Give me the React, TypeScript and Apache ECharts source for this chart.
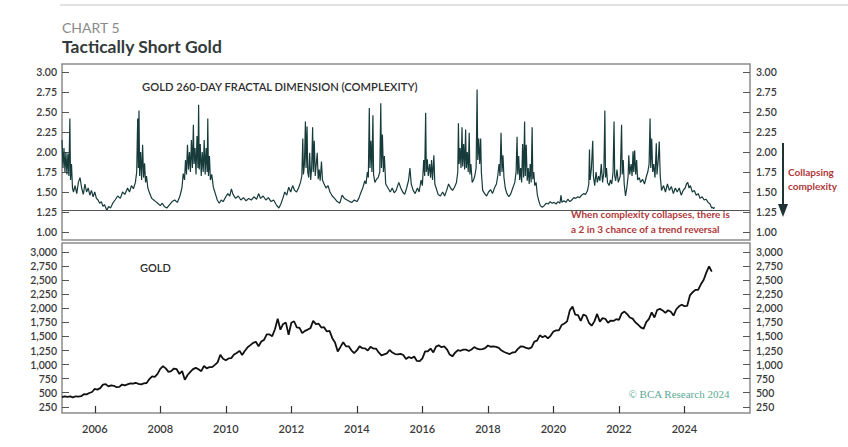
import React, { useEffect, useRef } from "react";
import * as echarts from "echarts";

// Gold 260-day fractal dimension: [year, value]
const fractalDimension: [number, number][] = [
  [2005.0, 2.15], [2005.03, 1.8], [2005.06, 2.05], [2005.09, 1.75], [2005.12, 2.0], [2005.15, 1.72],
  [2005.18, 1.98], [2005.21, 1.7], [2005.24, 2.42], [2005.26, 1.65], [2005.29, 1.85], [2005.32, 1.55],
  [2005.35, 1.5], [2005.4, 1.58], [2005.45, 1.48], [2005.5, 1.62], [2005.55, 1.68], [2005.6, 1.55],
  [2005.65, 1.47], [2005.7, 1.6], [2005.75, 1.5], [2005.8, 1.55], [2005.85, 1.46], [2005.9, 1.52],
  [2005.95, 1.44], [2006.0, 1.5], [2006.05, 1.42], [2006.1, 1.4], [2006.15, 1.36], [2006.2, 1.38],
  [2006.25, 1.32], [2006.3, 1.34], [2006.37, 1.27], [2006.42, 1.32], [2006.48, 1.3], [2006.55, 1.36],
  [2006.62, 1.4], [2006.7, 1.45], [2006.78, 1.42], [2006.85, 1.5], [2006.92, 1.47], [2007.0, 1.55],
  [2007.06, 1.5], [2007.12, 1.58], [2007.18, 1.54], [2007.24, 1.62], [2007.28, 1.75], [2007.31, 2.42],
  [2007.33, 1.8], [2007.35, 2.52], [2007.37, 1.7], [2007.4, 2.0], [2007.43, 1.65], [2007.46, 2.09],
  [2007.49, 1.68], [2007.52, 1.86], [2007.55, 1.62], [2007.58, 1.7], [2007.62, 1.55], [2007.68, 1.48],
  [2007.74, 1.42], [2007.8, 1.4], [2007.86, 1.38], [2007.92, 1.36], [2008.0, 1.33], [2008.06, 1.36],
  [2008.12, 1.32], [2008.2, 1.3], [2008.28, 1.34], [2008.36, 1.38], [2008.44, 1.4], [2008.52, 1.37],
  [2008.6, 1.45], [2008.66, 1.55], [2008.7, 1.73], [2008.74, 1.65], [2008.77, 1.9], [2008.8, 1.72],
  [2008.83, 2.09], [2008.86, 1.78], [2008.89, 2.0], [2008.92, 1.75], [2008.95, 2.15], [2008.98, 1.8],
  [2009.01, 2.34], [2009.03, 1.85], [2009.06, 2.05], [2009.09, 1.72], [2009.12, 2.2], [2009.15, 1.8],
  [2009.17, 2.59], [2009.19, 1.78], [2009.22, 2.1], [2009.25, 1.7], [2009.28, 2.0], [2009.31, 1.75],
  [2009.34, 2.15], [2009.37, 1.72], [2009.4, 2.05], [2009.43, 1.75], [2009.45, 2.42], [2009.47, 1.7],
  [2009.5, 1.95], [2009.53, 1.65], [2009.57, 1.72], [2009.62, 1.56], [2009.68, 1.48], [2009.74, 1.4],
  [2009.8, 1.36], [2009.86, 1.4], [2009.92, 1.38], [2010.0, 1.44], [2010.06, 1.48], [2010.12, 1.45],
  [2010.17, 1.54], [2010.22, 1.47], [2010.3, 1.42], [2010.38, 1.45], [2010.46, 1.4], [2010.54, 1.43],
  [2010.62, 1.39], [2010.7, 1.42], [2010.78, 1.4], [2010.86, 1.44], [2010.94, 1.41], [2011.0, 1.48],
  [2011.06, 1.42], [2011.14, 1.45], [2011.22, 1.4], [2011.3, 1.43], [2011.38, 1.38], [2011.46, 1.4],
  [2011.54, 1.34], [2011.62, 1.3], [2011.68, 1.35], [2011.74, 1.42], [2011.8, 1.5], [2011.86, 1.46],
  [2011.92, 1.56], [2011.98, 1.5], [2012.04, 1.58], [2012.1, 1.52], [2012.16, 1.5], [2012.22, 1.55],
  [2012.28, 1.62], [2012.32, 1.7], [2012.35, 2.17], [2012.37, 1.72], [2012.4, 1.85], [2012.43, 2.38],
  [2012.45, 1.8], [2012.48, 2.32], [2012.5, 1.75], [2012.53, 1.68], [2012.56, 1.99], [2012.59, 1.65],
  [2012.62, 1.8], [2012.65, 2.31], [2012.67, 1.75], [2012.7, 2.14], [2012.73, 1.7], [2012.76, 1.85],
  [2012.79, 1.99], [2012.82, 1.66], [2012.85, 1.78], [2012.88, 1.64], [2012.92, 1.88], [2012.95, 1.65],
  [2013.0, 1.6], [2013.06, 1.55], [2013.12, 1.58], [2013.18, 1.5], [2013.25, 1.45], [2013.32, 1.42],
  [2013.4, 1.38], [2013.48, 1.36], [2013.55, 1.46], [2013.62, 1.42], [2013.7, 1.4], [2013.78, 1.38],
  [2013.85, 1.37], [2013.92, 1.4], [2014.0, 1.38], [2014.06, 1.42], [2014.12, 1.49], [2014.18, 1.55],
  [2014.24, 1.64], [2014.28, 1.6], [2014.32, 1.75], [2014.35, 1.68], [2014.38, 2.55], [2014.4, 1.8],
  [2014.43, 2.14], [2014.46, 1.75], [2014.49, 2.46], [2014.51, 1.72], [2014.55, 1.62], [2014.6, 1.66],
  [2014.65, 1.68], [2014.7, 1.75], [2014.73, 2.61], [2014.75, 1.8], [2014.78, 2.22], [2014.81, 1.75],
  [2014.84, 1.95], [2014.88, 1.6], [2014.95, 1.55], [2015.02, 1.5], [2015.08, 1.55], [2015.14, 1.49],
  [2015.2, 1.52], [2015.28, 1.62], [2015.34, 1.55], [2015.4, 1.5], [2015.46, 1.47], [2015.52, 1.55],
  [2015.58, 1.65], [2015.62, 1.8], [2015.66, 1.6], [2015.72, 1.52], [2015.78, 1.48], [2015.85, 1.55],
  [2015.9, 1.5], [2015.96, 1.65], [2016.0, 1.58], [2016.04, 1.9], [2016.07, 1.7], [2016.1, 2.49],
  [2016.12, 1.75], [2016.15, 1.91], [2016.18, 1.7], [2016.22, 1.85], [2016.25, 1.68], [2016.28, 1.9],
  [2016.31, 1.65], [2016.35, 1.96], [2016.38, 1.6], [2016.42, 1.55], [2016.48, 1.47], [2016.55, 1.45],
  [2016.62, 1.5], [2016.68, 1.45], [2016.74, 1.52], [2016.8, 1.6], [2016.86, 1.55], [2016.92, 1.52],
  [2016.98, 1.56], [2017.04, 1.62], [2017.08, 1.75], [2017.1, 2.36], [2017.12, 1.85], [2017.15, 2.05],
  [2017.18, 1.8], [2017.21, 2.31], [2017.23, 1.82], [2017.26, 2.1], [2017.29, 1.78], [2017.32, 2.28],
  [2017.34, 1.8], [2017.37, 2.0], [2017.4, 1.75], [2017.43, 2.24], [2017.45, 1.72], [2017.48, 1.85],
  [2017.52, 1.62], [2017.56, 1.65], [2017.6, 1.7], [2017.64, 1.8], [2017.67, 2.78], [2017.69, 1.9],
  [2017.72, 2.17], [2017.75, 1.85], [2017.78, 2.17], [2017.8, 1.75], [2017.84, 1.52], [2017.9, 1.48],
  [2017.96, 1.45], [2018.02, 1.5], [2018.08, 1.53], [2018.14, 1.48], [2018.2, 1.55], [2018.26, 1.6],
  [2018.3, 1.7], [2018.34, 1.85], [2018.37, 1.7], [2018.4, 2.24], [2018.43, 1.75], [2018.46, 1.96],
  [2018.49, 1.68], [2018.53, 1.55], [2018.58, 1.48], [2018.64, 1.44], [2018.7, 1.48], [2018.76, 1.55],
  [2018.82, 1.62], [2018.86, 1.75], [2018.89, 2.19], [2018.91, 1.72], [2018.94, 1.95], [2018.97, 1.65],
  [2019.0, 1.8], [2019.03, 1.62], [2019.06, 2.1], [2019.09, 1.68], [2019.12, 2.38], [2019.14, 1.7],
  [2019.17, 2.09], [2019.2, 1.64], [2019.23, 1.8], [2019.26, 1.6], [2019.29, 1.85], [2019.32, 1.62],
  [2019.35, 2.31], [2019.37, 1.66], [2019.4, 1.75], [2019.43, 1.58], [2019.47, 1.62], [2019.51, 1.46],
  [2019.56, 1.38], [2019.6, 1.33], [2019.66, 1.31], [2019.72, 1.33], [2019.78, 1.36], [2019.84, 1.35],
  [2019.9, 1.38], [2019.96, 1.36], [2020.02, 1.37], [2020.08, 1.35], [2020.14, 1.38], [2020.2, 1.36],
  [2020.23, 1.46], [2020.26, 1.37], [2020.32, 1.39], [2020.38, 1.37], [2020.44, 1.41], [2020.5, 1.38],
  [2020.56, 1.4], [2020.62, 1.43], [2020.68, 1.42], [2020.74, 1.44], [2020.8, 1.43], [2020.86, 1.46],
  [2020.92, 1.48], [2020.98, 1.47], [2021.04, 1.52], [2021.08, 1.6], [2021.1, 2.03], [2021.12, 1.65],
  [2021.16, 1.8], [2021.2, 2.14], [2021.22, 1.7], [2021.26, 1.58], [2021.3, 1.75], [2021.34, 1.62],
  [2021.38, 1.7], [2021.42, 1.64], [2021.46, 1.85], [2021.5, 1.62], [2021.54, 1.75], [2021.57, 2.52],
  [2021.59, 1.68], [2021.62, 1.8], [2021.65, 1.62], [2021.7, 1.58], [2021.74, 1.65], [2021.78, 1.6],
  [2021.82, 1.75], [2021.85, 2.38], [2021.87, 1.7], [2021.9, 1.64], [2021.94, 1.78], [2021.98, 1.62],
  [2022.04, 1.7], [2022.08, 2.34], [2022.1, 1.72], [2022.13, 1.9], [2022.16, 1.6], [2022.2, 1.45],
  [2022.24, 1.55], [2022.28, 1.7], [2022.3, 1.96], [2022.33, 1.72], [2022.37, 1.85], [2022.4, 1.7],
  [2022.43, 2.01], [2022.45, 1.75], [2022.48, 2.02], [2022.51, 1.72], [2022.54, 1.9], [2022.57, 1.65],
  [2022.62, 1.68], [2022.66, 1.62], [2022.72, 1.66], [2022.78, 1.6], [2022.84, 1.7], [2022.88, 1.75],
  [2022.92, 1.85], [2022.95, 2.42], [2022.97, 1.8], [2023.0, 2.17], [2023.03, 1.75], [2023.06, 1.85],
  [2023.1, 1.68], [2023.14, 2.11], [2023.16, 1.72], [2023.2, 1.9], [2023.23, 2.13], [2023.26, 1.7],
  [2023.3, 1.52], [2023.36, 1.58], [2023.42, 1.5], [2023.48, 1.6], [2023.54, 1.52], [2023.6, 1.57],
  [2023.66, 1.48], [2023.72, 1.55], [2023.78, 1.5], [2023.84, 1.55], [2023.9, 1.46], [2023.96, 1.52],
  [2024.02, 1.55], [2024.06, 1.6], [2024.1, 1.62], [2024.14, 1.55], [2024.18, 1.58], [2024.24, 1.5],
  [2024.3, 1.52], [2024.36, 1.46], [2024.42, 1.48], [2024.48, 1.42], [2024.54, 1.44], [2024.6, 1.4],
  [2024.66, 1.41], [2024.72, 1.37], [2024.78, 1.35], [2024.83, 1.3], [2024.86, 1.31], [2024.89, 1.29],
  [2024.92, 1.31],
];

// Gold price, monthly from Jan 2005 (USD/oz)
const goldStartYear = 2005;
const goldPrices: number[] = [
  422, 435, 428, 435, 417, 437, 430, 438, 473, 470, 495, 513,
  568, 556, 582, 644, 653, 613, 632, 623, 598, 604, 646, 632,
  650, 665, 662, 677, 659, 650, 665, 673, 743, 789, 783, 834,
  923, 971, 933, 871, 885, 930, 918, 833, 884, 731, 815, 869,
  919, 942, 916, 883, 975, 934, 955, 955, 996, 1040, 1175, 1104,
  1078, 1109, 1115, 1179, 1207, 1244, 1169, 1246, 1307, 1346, 1386, 1406,
  1327, 1411, 1439, 1536, 1536, 1505, 1628, 1813, 1620, 1722, 1746, 1531,
  1744, 1770, 1662, 1651, 1558, 1598, 1622, 1648, 1776, 1720, 1726, 1657,
  1664, 1588, 1598, 1469, 1394, 1234, 1314, 1396, 1326, 1324, 1253, 1204,
  1251, 1326, 1291, 1288, 1250, 1315, 1285, 1285, 1216, 1164, 1182, 1199,
  1260, 1214, 1187, 1180, 1190, 1171, 1098, 1135, 1114, 1142, 1065, 1060,
  1111, 1234, 1237, 1285, 1215, 1320, 1342, 1309, 1322, 1272, 1178, 1146,
  1212, 1255, 1245, 1267, 1266, 1242, 1269, 1311, 1283, 1270, 1275, 1291,
  1339, 1317, 1324, 1316, 1298, 1250, 1224, 1202, 1187, 1215, 1222, 1279,
  1321, 1320, 1295, 1284, 1305, 1409, 1427, 1520, 1485, 1511, 1464, 1515,
  1587, 1609, 1608, 1702, 1730, 1768, 1963, 2030, 1886, 1880, 1777, 1891,
  1863, 1743, 1691, 1768, 1900, 1763, 1825, 1814, 1743, 1783, 1775, 1806,
  1796, 1909, 1942, 1897, 1837, 1817, 1753, 1711, 1661, 1636, 1754, 1812,
  1928, 1837, 1969, 1990, 1962, 1919, 1965, 1940, 1871, 1983, 2036, 2063,
  2039, 2044, 2229, 2286, 2327, 2326, 2426, 2503, 2634, 2744, 2650,
];

const xTickYears = [2006, 2008, 2010, 2012, 2014, 2016, 2018, 2020, 2022, 2024];
const fdTicks = [1.0, 1.25, 1.5, 1.75, 2.0, 2.25, 2.5, 2.75, 3.0];
const goldTicks = [250, 500, 750, 1000, 1250, 1500, 1750, 2000, 2250, 2500, 2750, 3000];
const collapseThreshold = 1.275;

const FONT = "Lato, 'Open Sans', sans-serif";
const labelStyle = { color: "#3a3a3a", fontSize: 10.5, fontWeight: 600 as const, fontFamily: FONT };

export default function App() {
  const ref = useRef<HTMLDivElement>(null);

  useEffect(() => {
    if (!ref.current) return;
    const chart = echarts.init(ref.current, undefined, { renderer: "svg" });
    const goldData = goldPrices.map((v, i) => [goldStartYear + i / 12, v]);

    const yBase = (gridIndex: number, position: "left" | "right", min: number, max: number, ticks: number[], fmt: (v: number) => string) => ({
      type: "value",
      gridIndex,
      position,
      min,
      max,
      splitLine: { show: false },
      axisLine: { show: false },
      axisTick: { show: true, inside: true, length: 7, customValues: ticks, lineStyle: { color: "#555", width: 1 } },
      axisLabel: { ...labelStyle, margin: position === "left" ? 5 : 6, customValues: ticks, formatter: fmt },
    });

    const fmtFd = (v: number) => v.toFixed(2);
    const fmtGold = (v: number) => v.toLocaleString("en-US");

    chart.setOption({
      animation: false,
      backgroundColor: "#ffffff",
      grid: [
        { left: 62, right: 98, top: 64, height: 176, show: true, borderColor: "#8c8c8c", borderWidth: 1.5 },
        { left: 62, right: 98, top: 243, height: 170, show: true, borderColor: "#8c8c8c", borderWidth: 1.5 },
      ],
      xAxis: [
        {
          type: "value", gridIndex: 0, min: 2005, max: 2026,
          axisLine: { show: false }, axisTick: { show: false }, axisLabel: { show: false }, splitLine: { show: false },
        },
        {
          type: "value", gridIndex: 1, min: 2005, max: 2026,
          axisLine: { show: false }, splitLine: { show: false },
          axisTick: { show: true, inside: true, length: 7, customValues: xTickYears, lineStyle: { color: "#333", width: 1.2 } },
          axisLabel: { ...labelStyle, fontSize: 11, margin: 10, customValues: xTickYears, formatter: (v: number) => String(v) },
        },
      ],
      yAxis: [
        yBase(0, "left", 0.9, 3.1, fdTicks, fmtFd),
        yBase(0, "right", 0.9, 3.1, fdTicks, fmtFd),
        yBase(1, "left", 140, 3160, goldTicks, fmtGold),
        yBase(1, "right", 140, 3160, goldTicks, fmtGold),
      ],
      series: [
        {
          type: "line",
          name: "Fractal dimension",
          xAxisIndex: 0,
          yAxisIndex: 0,
          data: fractalDimension,
          showSymbol: false,
          lineStyle: { color: "#173b3b", width: 1.2 },
          markLine: {
            silent: true,
            symbol: "none",
            label: { show: false },
            lineStyle: { color: "#555", width: 1, type: "solid" },
            data: [{ yAxis: collapseThreshold }],
          },
        },
        {
          type: "line",
          name: "Gold",
          xAxisIndex: 1,
          yAxisIndex: 2,
          data: goldData,
          showSymbol: false,
          lineStyle: { color: "#111", width: 1.8 },
        },
      ],
      graphic: [
        { type: "rect", shape: { x: 60, y: 4, width: 788, height: 2 }, style: { fill: "#e2e2e2" } },
        { type: "text", left: 62, top: 20, style: { text: "CHART 5", fill: "#8a8a8a", font: `400 14px ${FONT}` } },
        { type: "text", left: 62, top: 37, style: { text: "Tactically Short Gold", fill: "#333a3a", font: `700 17.5px ${FONT}` } },
        { type: "text", left: 142, top: 81, style: { text: "GOLD 260-DAY FRACTAL DIMENSION (COMPLEXITY)", fill: "#2e2e2e", font: `600 11.2px ${FONT}` } },
        { type: "text", left: 140, top: 262, style: { text: "GOLD", fill: "#2e2e2e", font: `600 11px ${FONT}` } },
        { type: "text", left: 571, top: 209, style: { text: "When complexity collapses, there is", fill: "#b0383a", font: `700 10px ${FONT}` } },
        { type: "text", left: 571, top: 224, style: { text: "a 2 in 3 chance of a trend reversal", fill: "#b0383a", font: `700 10px ${FONT}` } },
        { type: "text", left: 788, top: 167, style: { text: "Collapsing", fill: "#b0383a", font: `700 10px ${FONT}` } },
        { type: "text", left: 788, top: 181, style: { text: "complexity", fill: "#b0383a", font: `700 10px ${FONT}` } },
        { type: "line", shape: { x1: 783, y1: 143, x2: 783, y2: 207 }, style: { stroke: "#1c3434", lineWidth: 2 } },
        { type: "polygon", shape: { points: [[778, 204], [788, 204], [783, 217]] }, style: { fill: "#1c3434" } },
        { type: "text", right: 118, top: 388, style: { text: "© BCA Research 2024", fill: "#5aa995", font: `400 11px 'Liberation Serif', serif` } },
      ],
    });

    return () => chart.dispose();
  }, []);

  return <div ref={ref} style={{ position: "fixed", left: 0, top: 0, width: 848, height: 447 }} />;
}
